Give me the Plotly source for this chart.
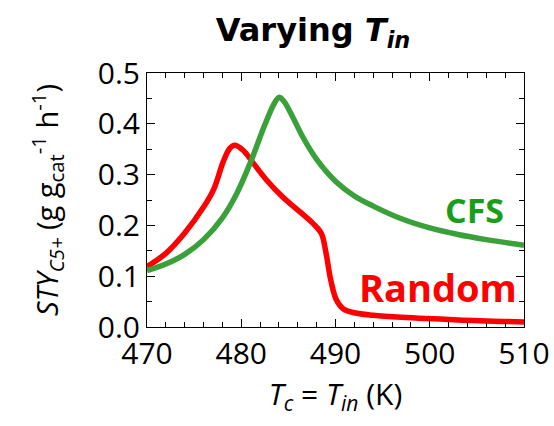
import plotly.graph_objects as go

# CFS series
cfs_T = [470, 472, 474, 476, 478, 479.5, 481, 482.5, 483.5, 484, 484.5, 485.5, 486.5, 488, 490, 492, 494, 497, 500, 503, 506, 510]
cfs_v = [0.111, 0.124, 0.143, 0.172, 0.215, 0.262, 0.325, 0.398, 0.440, 0.452, 0.445, 0.412, 0.375, 0.330, 0.287, 0.258, 0.238, 0.213, 0.195, 0.182, 0.172, 0.161]

# Random series
rnd_T = [470, 472, 474, 476, 477.1, 478.1, 478.8, 479.3, 480.2, 481.3, 482.7, 484.4, 486.2, 487.6, 488.5, 489.0, 489.5, 490.1, 490.8, 492, 494, 497, 503, 510]
rnd_v = [0.119, 0.145, 0.185, 0.236, 0.272, 0.326, 0.352, 0.358, 0.348, 0.322, 0.289, 0.256, 0.227, 0.204, 0.184, 0.145, 0.092, 0.053, 0.036, 0.028, 0.023, 0.019, 0.014, 0.010]

x_ticks = [470, 480, 490, 500, 510]
y_ticks = [0.0, 0.1, 0.2, 0.3, 0.4, 0.5]
y_tick_text = ["0.0", "0.1", "0.2", "0.3", "0.4", "0.5"]

fig = go.Figure()
fig.add_trace(go.Scatter(x=rnd_T, y=rnd_v, mode="lines",
                         line=dict(color="#ff0000", width=5.5, shape="spline", smoothing=1.0),
                         showlegend=False))
fig.add_trace(go.Scatter(x=cfs_T, y=cfs_v, mode="lines",
                         line=dict(color="#3aa03a", width=5.5, shape="spline", smoothing=1.0),
                         showlegend=False))

tick_font = dict(family="Open Sans", size=30, color="#000000")
fig.update_xaxes(range=[470, 510], tickvals=x_ticks, ticks="inside", ticklen=8, tickwidth=1,
                 minor=dict(dtick=2, ticks="inside", ticklen=5, tickwidth=1, tickcolor="#000"),
                 showline=True, linecolor="#000", linewidth=1, mirror="ticks", automargin=False,
                 showgrid=False, zeroline=False, tickfont=tick_font, tickcolor="#000",
                 title=dict(text="<i>T</i><sub><i>c</i></sub> = <i>T</i><sub><i>in</i></sub> (K)",
                            font=dict(family="Open Sans", size=30, color="#000"), standoff=7))
fig.update_yaxes(range=[0, 0.5], tickvals=y_ticks, ticktext=y_tick_text, ticks="inside", ticklen=8, tickwidth=1,
                 minor=dict(dtick=0.05, ticks="inside", ticklen=5, tickwidth=1, tickcolor="#000"),
                 showline=True, linecolor="#000", linewidth=1, mirror="ticks", automargin=False,
                 showgrid=False, zeroline=False, tickfont=tick_font, tickcolor="#000",
                 title=dict(text="<i>STY</i><sub><i>C5+</i></sub> (g g<sub>cat</sub><sup>-1</sup> h<sup>-1</sup>)",
                            font=dict(family="Open Sans", size=29, color="#000"), standoff=30))

fig.add_annotation(x=504.7, y=0.231, text="<b>CFS</b>", showarrow=False, xref="x", yref="y",
                   font=dict(family="Open Sans", size=34, color="#1a9e1a"))
fig.add_annotation(x=500.9, y=0.079, text="<b>Random</b>", showarrow=False, xref="x", yref="y",
                   font=dict(family="Open Sans", size=38, color="#ff0000"))

fig.update_layout(
    width=554, height=426,
    margin=dict(l=147, r=30, t=73, b=99, autoexpand=False),
    paper_bgcolor="white", plot_bgcolor="white",
    title=dict(text="<b>Varying <i>T</i><sub><i>in</i></sub></b>", x=0.565, xanchor="center",
               y=0.93, yanchor="middle",
               font=dict(family="DejaVu Sans", size=32, color="#000")),
)

fig.write_html("out.html")
